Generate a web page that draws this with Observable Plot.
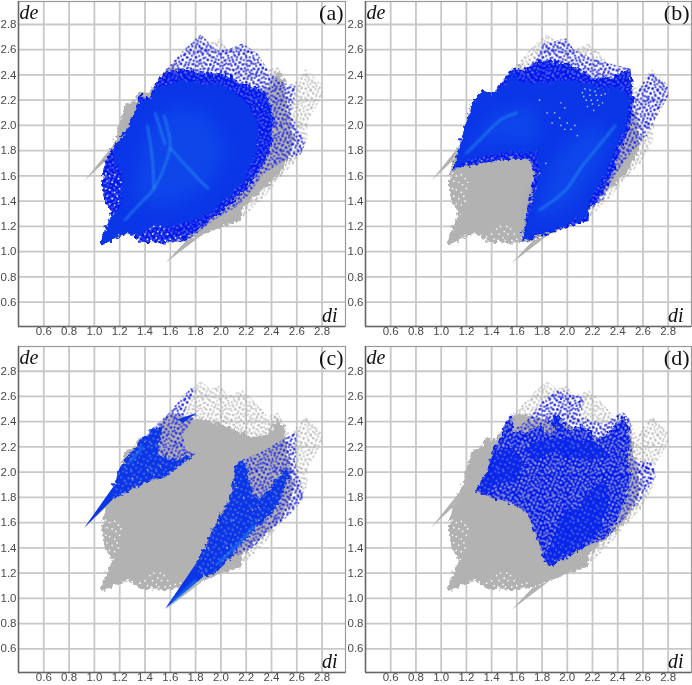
<!DOCTYPE html>
<html><head><meta charset="utf-8">
<script src="https://cdn.jsdelivr.net/npm/d3@7"></script>
<script src="https://cdn.jsdelivr.net/npm/@observablehq/plot@0.6"></script>
<style>
html,body{margin:0;padding:0;background:#fff}
#c{position:relative;width:692px;height:685px;overflow:hidden}
#c svg.plot{position:absolute;filter:blur(.35px)}
</style></head><body>
<svg id="defs" width="0" height="0" style="position:absolute"><defs>
<filter id="rough" x="-6%" y="-6%" width="112%" height="112%" color-interpolation-filters="sRGB"><feTurbulence type="fractalNoise" baseFrequency=".24" numOctaves="2" seed="4"/><feDisplacementMap in="SourceGraphic" scale="9" xChannelSelector="R" yChannelSelector="G"/></filter>
</defs></svg>
<div id="c"></div>
<script>
const ticks=[0.6,0.8,1.0,1.2,1.4,1.6,1.8,2.0,2.2,2.4,2.6,2.8];
const panelNames=["(a)","(b)","(c)","(d)"];
const tileA=[[0.5,1.5],[4.2,0.3],[6.8,3.1],[11.5,1.2],[15.3,2.7],[2.1,5.4],[5.6,7.9],[9.4,5.6],[13.2,6.3],[16.8,7.2],[0.8,9.3],[3.7,11.6],[8.1,10.2],[11.9,9.8],[15.2,11.3],[1.9,14.6],[6.3,14.1],[10.2,13.7],[13.4,15.2],[17.1,15.8],[4.6,17.2],[9.2,16.9]];
const tileB=[[1.2,2.3],[5.9,0.7],[8.7,4.4],[13.3,1.6],[18.5,3.2],[22.8,0.9],[3.1,7.7],[7.2,9.3],[11.6,6.8],[15.4,8.6],[20.7,6.9],[24.1,10.2],[0.7,12.9],[5.1,13.4],[9.8,14.2],[13.7,12.1],[18.2,13.6],[22.3,15.4],[2.9,18.1],[7.6,19.2],[12.4,17.3],[16.1,18.8],[20.5,20.1],[24.3,21.5],[0.9,23.2],[5.4,23.9],[10.7,22.4],[15.2,24.1]];
const greySpikeL=[[0.92,1.56],[1.16,1.86],[1.09,1.72]];
const greySpikeR=[[1.56,0.91],[1.72,1.08],[1.86,1.14]];
const greyOuter=[[1.15,1.85],[1.18,1.93],[1.23,2.15],[1.31,2.2],[1.35,2.27],[1.42,2.25],[1.5,2.35],[1.57,2.45],[1.65,2.54],[1.76,2.66],[1.84,2.72],[1.92,2.66],[2.0,2.69],[2.05,2.6],[2.17,2.65],[2.26,2.57],[2.37,2.44],[2.45,2.47],[2.51,2.36],[2.55,2.29],[2.67,2.45],[2.8,2.32],[2.8,2.23],[2.69,2.04],[2.68,1.88],[2.58,1.7],[2.47,1.59],[2.34,1.43],[2.15,1.25],[1.94,1.17],[1.86,1.14],[1.71,1.08],[1.52,1.07],[1.36,1.08],[1.3,1.13],[1.27,1.14],[1.15,1.1],[1.06,1.05],[1.05,1.08],[1.13,1.28],[1.14,1.3],[1.07,1.43],[1.07,1.62],[1.09,1.72]];
const greySolid=[[1.15,1.85],[1.18,1.93],[1.23,2.15],[1.31,2.2],[1.35,2.27],[1.42,2.25],[1.5,2.35],[1.57,2.45],[1.63,2.47],[1.72,2.43],[1.85,2.42],[2.0,2.38],[2.12,2.33],[2.25,2.28],[2.37,2.3],[2.45,2.42],[2.5,2.36],[2.52,2.2],[2.55,2.05],[2.58,1.9],[2.55,1.75],[2.47,1.62],[2.36,1.52],[2.24,1.42],[2.17,1.34],[2.15,1.25],[1.94,1.17],[1.86,1.14],[1.71,1.08],[1.52,1.07],[1.36,1.08],[1.3,1.13],[1.27,1.14],[1.15,1.1],[1.06,1.05],[1.05,1.08],[1.13,1.28],[1.14,1.3],[1.07,1.43],[1.07,1.62],[1.09,1.72]];
const whiteDots=[[1.09,1.62],[1.12,1.6],[1.16,1.61],[1.19,1.58],[1.1,1.56],[1.14,1.55],[1.17,1.53],[1.21,1.55],[1.09,1.5],[1.12,1.49],[1.16,1.47],[1.2,1.5],[1.1,1.44],[1.14,1.42],[1.18,1.44],[1.12,1.38],[1.16,1.37],[1.19,1.4],[1.4,1.14],[1.44,1.18],[1.47,1.2],[1.5,1.16],[1.46,1.14],[1.42,1.1],[1.49,1.11],[1.53,1.14],[1.55,1.18],[1.52,1.2],[1.58,1.14],[1.6,1.1],[1.56,1.09],[1.64,1.11],[1.68,1.12],[1.36,1.12],[1.45,1.09],[1.51,1.09]];
const aOuter=[[1.06,1.05],[1.05,1.08],[1.13,1.28],[1.14,1.3],[1.07,1.43],[1.07,1.65],[1.1,1.75],[1.17,1.85],[1.27,1.98],[1.33,2.14],[1.36,2.24],[1.44,2.22],[1.5,2.36],[1.57,2.45],[1.65,2.53],[1.73,2.62],[1.84,2.72],[1.89,2.67],[1.96,2.6],[2.05,2.6],[2.17,2.65],[2.29,2.57],[2.39,2.41],[2.51,2.33],[2.59,2.32],[2.58,2.2],[2.55,2.1],[2.67,1.86],[2.63,1.77],[2.5,1.72],[2.34,1.62],[2.21,1.44],[2.13,1.36],[1.94,1.25],[1.73,1.08],[1.52,1.07],[1.36,1.08],[1.3,1.13],[1.27,1.14],[1.15,1.1]];
const aMid=[[1.06,1.05],[1.05,1.08],[1.13,1.28],[1.14,1.3],[1.07,1.43],[1.07,1.65],[1.1,1.75],[1.17,1.85],[1.27,1.98],[1.33,2.14],[1.36,2.24],[1.44,2.22],[1.5,2.36],[1.57,2.42],[1.72,2.45],[1.85,2.42],[2.05,2.4],[2.18,2.32],[2.3,2.3],[2.38,2.2],[2.42,2.05],[2.4,1.85],[2.33,1.68],[2.2,1.5],[2.05,1.36],[1.9,1.24],[1.73,1.1],[1.52,1.07],[1.36,1.08],[1.3,1.13],[1.27,1.14],[1.15,1.1]];
const aCore=[[1.06,1.05],[1.05,1.08],[1.13,1.28],[1.2,1.35],[1.22,1.6],[1.16,1.72],[1.17,1.85],[1.27,1.98],[1.33,2.14],[1.38,2.2],[1.44,2.2],[1.5,2.3],[1.6,2.33],[1.72,2.36],[1.85,2.33],[2.0,2.32],[2.1,2.27],[2.2,2.18],[2.28,2.05],[2.3,1.9],[2.26,1.72],[2.18,1.55],[2.05,1.42],[1.9,1.3],[1.72,1.22],[1.6,1.2],[1.45,1.2],[1.35,1.13],[1.27,1.14],[1.15,1.1]];
const aLight=[[1.3,1.4],[1.4,1.9],[1.6,2.15],[1.9,2.1],[2.05,1.8],[1.9,1.5],[1.6,1.35]];
const aGlow=[[[1.24,1.25],[1.36,1.38],[1.47,1.5],[1.58,1.75],[1.6,1.85],[1.55,2.08]],[[1.42,2.0],[1.46,1.72],[1.47,1.5]],[[1.6,1.82],[1.78,1.62],[1.9,1.5]],[[1.48,2.1],[1.56,1.85]]];
const bOuter=[[1.09,1.63],[1.16,1.88],[1.24,2.17],[1.33,2.28],[1.41,2.25],[1.56,2.45],[1.65,2.44],[1.75,2.54],[1.81,2.65],[1.99,2.69],[2.05,2.6],[2.18,2.54],[2.34,2.49],[2.5,2.45],[2.52,2.22],[2.66,2.42],[2.8,2.32],[2.8,2.23],[2.68,2.02],[2.63,1.92],[2.52,1.8],[2.44,1.7],[2.34,1.54],[2.28,1.41],[2.17,1.33],[2.17,1.25],[1.94,1.18],[1.64,1.08],[1.68,1.3],[1.74,1.62],[1.7,1.73],[1.57,1.74],[1.31,1.7],[1.12,1.66]];
const bMid=[[1.09,1.63],[1.16,1.88],[1.24,2.17],[1.33,2.28],[1.41,2.25],[1.56,2.45],[1.65,2.44],[1.75,2.5],[1.85,2.52],[2.05,2.47],[2.2,2.38],[2.35,2.38],[2.5,2.45],[2.52,2.22],[2.5,2.0],[2.42,1.82],[2.36,1.62],[2.26,1.44],[2.17,1.33],[2.17,1.25],[1.94,1.18],[1.64,1.08],[1.68,1.3],[1.74,1.62],[1.7,1.73],[1.57,1.74],[1.31,1.7],[1.12,1.66]];
const bCore=[[1.09,1.63],[1.16,1.88],[1.24,2.17],[1.33,2.28],[1.41,2.25],[1.5,2.32],[1.56,2.42],[1.65,2.34],[1.85,2.34],[2.05,2.36],[2.25,2.3],[2.42,2.3],[2.5,2.22],[2.47,2.0],[2.38,1.82],[2.3,1.6],[2.2,1.46],[2.15,1.27],[1.94,1.19],[1.64,1.09],[1.7,1.3],[1.78,1.62],[1.76,1.79],[1.57,1.79],[1.31,1.76],[1.12,1.68]];
const bLight=[[1.2,1.8],[1.45,2.12],[1.75,2.15],[1.78,1.85],[1.45,1.88]];
const bLight2=[[1.75,1.25],[1.9,1.75],[2.15,2.0],[2.35,1.95],[2.2,1.6],[2.0,1.35]];
const bGlow=[[[1.2,1.78],[1.32,1.9],[1.48,2.05],[1.6,2.1]],[[1.78,1.33],[1.98,1.48],[2.12,1.68],[2.3,1.9],[2.38,2.0]]];
const bHoles=[[2.12,2.26],[2.15,2.2],[2.18,2.24],[2.2,2.17],[2.22,2.27],[2.24,2.2],[2.27,2.24],[2.16,2.15],[2.21,2.12],[2.25,2.16],[2.18,2.28],[2.14,2.29],[2.23,2.24],[2.19,2.2],[2.13,2.23],[2.28,2.18],[1.95,2.0],[1.98,1.97],[2.0,2.02],[2.03,1.97],[2.06,2.0],[1.9,2.1],[1.94,2.06],[1.84,2.1],[1.88,2.02],[1.98,2.14],[2.08,1.92],[1.95,2.18],[1.78,2.2],[2.3,2.25],[1.32,1.72],[1.4,1.74],[1.48,1.73],[1.2,1.7],[1.75,1.5],[1.72,1.4],[1.78,1.62],[1.83,1.7]];
const cTop=[[1.57,2.45],[1.65,2.54],[1.76,2.67],[1.8,2.65],[1.72,2.5],[1.7,2.44]];
const cLeft=[[1.15,1.88],[1.21,2.05],[1.34,2.22],[1.47,2.36],[1.57,2.45],[1.73,2.44],[1.81,2.46],[1.7,2.3],[1.72,2.18],[1.8,2.14],[1.68,2.05],[1.57,1.96],[1.36,1.91],[1.26,1.84],[1.13,1.78]];
const cLeftCore=[[1.15,1.88],[1.21,2.05],[1.34,2.22],[1.47,2.36],[1.53,2.36],[1.5,2.15],[1.6,2.1],[1.8,2.14],[1.65,2.04],[1.57,1.97],[1.36,1.91],[1.26,1.84],[1.13,1.78]];
const cTipL=[[0.92,1.56],[1.16,1.9],[1.14,1.78]];
const cTipR=[[1.56,0.92],[1.84,1.33],[1.86,1.17]];
const cFingers=[[1.66,2.42],[1.81,2.47],[1.7,2.39]];
const cRight=[[1.84,1.33],[1.94,1.56],[2.02,1.7],[2.08,1.8],[2.11,1.99],[2.15,2.09],[2.3,2.15],[2.6,2.32],[2.59,2.07],[2.66,1.8],[2.55,1.67],[2.39,1.54],[2.25,1.4],[2.05,1.3],[1.94,1.19],[1.84,1.18]];
const cRightCore=[[1.8,1.25],[1.84,1.33],[1.94,1.56],[2.02,1.7],[2.08,1.82],[2.12,2.05],[2.17,2.1],[2.22,2.0],[2.22,1.92],[2.28,1.78],[2.37,1.85],[2.5,2.02],[2.55,2.0],[2.45,1.75],[2.35,1.62],[2.22,1.5],[2.05,1.3],[1.94,1.19],[1.84,1.18]];
const cGlow=[[[1.28,2.08],[1.38,2.2]],[[1.98,1.28],[2.2,1.5],[2.26,1.58]],[[1.62,0.97],[1.8,1.14]]];
const cHoles=[[1.6,2.4],[1.66,2.37],[1.62,2.3],[1.68,2.28],[1.58,2.22],[1.63,2.18],[1.52,2.05],[1.6,2.0],[1.42,2.02],[1.47,1.98],[1.3,1.95],[2.25,1.7],[2.3,1.72],[2.04,1.78],[2.12,1.88],[2.18,1.8],[2.1,1.62],[1.98,1.6],[1.9,1.4],[2.05,1.4],[2.18,1.45],[2.3,1.62]];
const dOuter=[[1.27,1.85],[1.36,1.99],[1.41,2.17],[1.49,2.28],[1.49,2.36],[1.56,2.46],[1.57,2.33],[1.68,2.41],[1.81,2.57],[1.94,2.66],[2.05,2.61],[2.14,2.59],[2.1,2.44],[2.29,2.38],[2.44,2.48],[2.5,2.41],[2.52,2.09],[2.68,2.08],[2.7,1.96],[2.58,1.78],[2.46,1.64],[2.32,1.48],[2.15,1.41],[1.86,1.26],[1.82,1.3],[1.76,1.48],[1.69,1.67],[1.57,1.75],[1.39,1.8]];
const dMid=[[1.27,1.85],[1.36,1.99],[1.41,2.17],[1.49,2.28],[1.49,2.36],[1.56,2.46],[1.57,2.33],[1.68,2.3],[1.76,2.38],[1.86,2.3],[1.94,2.42],[2.02,2.32],[2.12,2.38],[2.22,2.26],[2.32,2.3],[2.45,2.44],[2.49,2.36],[2.48,2.1],[2.5,1.95],[2.44,1.72],[2.32,1.5],[2.15,1.41],[1.86,1.26],[1.82,1.3],[1.76,1.48],[1.69,1.67],[1.57,1.75],[1.39,1.8]];
const dDense=[[[1.27,1.85],[1.36,1.99],[1.41,2.14],[1.56,2.2],[1.66,2.06],[1.6,1.95],[1.45,1.9],[1.35,1.83]],[[1.9,1.3],[1.86,1.26],[1.83,1.32],[1.88,1.45],[1.98,1.72],[2.1,1.72],[2.22,1.9],[2.3,1.95],[2.33,1.75],[2.25,1.52],[2.15,1.43]],[[1.86,2.4],[1.92,2.46],[1.97,2.38],[1.96,2.33],[1.88,2.36]],[[1.66,2.18],[1.8,2.26],[2.05,2.26],[2.25,2.24],[2.32,2.12],[2.1,2.1],[1.9,2.16],[1.74,2.1]]];
const dBlue=[[2.6,2.05],[2.63,2.03],[2.57,2.0],[2.66,1.95],[2.5,1.98],[2.48,2.04],[2.44,2.17],[2.44,2.4],[2.4,2.44],[2.35,2.32],[1.95,2.58],[2.02,2.54],[2.1,2.56]];
function pattern(id,size,pts,color,r){
 const p=d3.select("#defs defs").append("pattern").attr("id",id).attr("width",size).attr("height",size).attr("patternUnits","userSpaceOnUse");
 p.selectAll("circle").data(pts).join("circle").attr("cx",d=>d[0]).attr("cy",d=>d[1]).attr("r",r).attr("fill",color);
}
pattern("gA",18,tileA,"#a6a6a6",.85);pattern("gB",25,tileB,"#a6a6a6",.85);
pattern("bA",18,tileA,"#0008f4",.95);pattern("bB",25,tileB,"#0008f4",.95);
pattern("hA",18,tileA,"#b9bcd2",.6);pattern("hB",25,tileB,"#b9bcd2",.7);
pattern("kA",18,tileA,"#b4b4c2",.95);pattern("kB",25,tileB,"#b4b4c2",.95);
const xy={x:d=>d[0],y:d=>d[1]};
function poly(a,f,rough){return Plot.line(a,{...xy,fill:f,stroke:"none",imageFilter:rough===false?undefined:"url(#rough)"})}
function sparse(a,k){return ["A","B"].map(t=>Plot.line(a,{...xy,fill:`url(#${k}${t})`,stroke:"none"}))}
function one(a,id){return Plot.line(a,{...xy,fill:`url(#${id})`,stroke:"none"})}
function soft(a,f,b){return Plot.line(a,{...xy,fill:f,stroke:"none",imageFilter:`blur(${b}px)`})}
function dots(a,f,r){return Plot.dot(a,{...xy,r:r||0.85,fill:f,stroke:"none"})}
function glow(a,c,w,o,b){return Plot.line(a,{...xy,stroke:c,strokeWidth:w,strokeOpacity:o,curve:"catmull-rom",imageFilter:`blur(${b||1.2}px)`})}
const BL="#0018f0",CO="#0a36e8";
const layers=[
[...sparse(aOuter,"b"),poly(aMid,BL),...sparse(aMid,"h"),poly(aCore,CO),soft(aLight,"#0e46ea",9),dots(whiteDots,"#f0f2ff"),...aGlow.map(g=>glow(g,"#30a0f4",2,.6))],
[...sparse(bOuter,"b"),poly(bMid,BL),...sparse(bMid,"h"),poly(bCore,CO),soft(bLight,"#0e46ea",8),soft(bLight2,"#0e46ea",8),dots(bHoles,"#b8bcd4"),...bGlow.map(g=>glow(g,"#30a0f4",2.2,.55))],
[...sparse(cTop,"b"),...sparse(cLeft,"b"),...sparse(cRight,"b"),poly(cLeftCore,CO),poly(cRightCore,CO),poly(cTipL,CO,false),poly(cTipR,CO,false),poly(cFingers,CO,false),one(cLeftCore,"hB"),one(cRightCore,"hB"),dots(cHoles,"#b4b8d0"),...cGlow.map(g=>glow(g,"#30b0f4",1.6,.7,.8))],
[...sparse(dOuter,"b"),poly(dMid,BL),...sparse(dMid,"k"),...dDense.map(p=>poly(p,"#0a26ea")),...dDense.map(p=>one(p,"hB")),dots(dBlue,"#0000ff",1)]
];
const boxes=[[0,0,346,345,326,[2.982,0.4075]],[347,0,345,345,326,[2.982,0.4075]],[0,345,346,340,327,[2.996,0.412]],[347,345,345,340,327,[2.996,0.412]]];
boxes.forEach(([left,top,w,h,bottom,yd],i)=>{
 const p=Plot.plot({width:w,height:h,marginLeft:18,marginRight:1,marginTop:1,marginBottom:h-bottom,
  style:{fontFamily:"Liberation Sans",background:"transparent",overflow:"visible"},
  x:{domain:[0.4,2.985],label:null},y:{domain:[yd[1],yd[0]],label:null},
  marks:[
   Plot.gridX(ticks,{stroke:"#c8c8c8",strokeOpacity:1,strokeWidth:1.8}),
   Plot.gridY(ticks,{stroke:"#c8c8c8",strokeOpacity:1,strokeWidth:1.8}),
   Plot.frame({stroke:"#9a9a9a",strokeWidth:1.2}),
   Plot.ruleX([0.4],{stroke:"#666",strokeWidth:1.5}),
   Plot.ruleY([yd[1]],{stroke:"#666",strokeWidth:1.5}),
   ...sparse(greyOuter,"g"),poly(greySolid,"#b2b2b2"),poly(greySpikeL,"#b2b2b2",false),poly(greySpikeR,"#b2b2b2",false),dots(whiteDots,"#fafafa"),
   ...layers[i],
   Plot.axisX({ticks,tickSize:0,tickPadding:0,label:null,tickFormat:d3.format(".1f"),fontSize:11.5,fill:"#4a4a4a",dy:0}),
   Plot.axisY({ticks,tickSize:0,tickPadding:2,label:null,tickFormat:d3.format(".1f"),fontSize:11.5,fill:"#4a4a4a"}),
   Plot.text(["de"],{frameAnchor:"top-left",dx:1,dy:3,fontFamily:"Liberation Serif",fontStyle:"italic",fontSize:20,fill:"#111",textAnchor:"start",lineAnchor:"top"}),
   Plot.text([panelNames[i]],{frameAnchor:"top-right",dx:-2,dy:3,fontFamily:"Liberation Serif",fontSize:22,fill:"#111",textAnchor:"end",lineAnchor:"top"}),
   Plot.text(["di"],{frameAnchor:"bottom-right",dx:-8,dy:-5,fontFamily:"Liberation Serif",fontStyle:"italic",fontSize:20,fill:"#111",textAnchor:"end",lineAnchor:"bottom"})
  ]});
 p.setAttribute("class",(p.getAttribute("class")||"")+" plot");
 p.style.left=left+"px";p.style.top=top+"px";
 document.getElementById("c").appendChild(p);
});
</script></body></html>
